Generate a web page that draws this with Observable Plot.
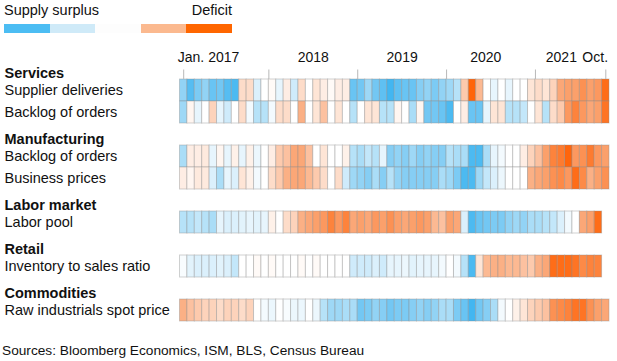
<!DOCTYPE html>
<html>
<head>
<meta charset="utf-8">
<script src="https://cdn.jsdelivr.net/npm/d3@7"></script>
<script src="https://cdn.jsdelivr.net/npm/@observablehq/plot@0.6"></script>
<style>
  html, body { margin: 0; padding: 0; background: #fff; }
  body { width: 617px; height: 361px; overflow: hidden; font-family: "Liberation Sans", Arial, sans-serif; color: #111; }
  #legend { position: relative; width: 617px; height: 38px; }
  #legend .labels { position: absolute; left: 4px; top: 2px; width: 228px; display: flex; justify-content: space-between; font-size: 14.5px; line-height: 17px; }
  #legend .bar { position: absolute; left: 4px; top: 24px; width: 228px; height: 9px; display: flex; }
  #legend .bar div { flex: 1; }
  #chart svg { display: block; }
  #caption { font-size: 13.7px; line-height: 16px; margin: 5px 0 0 2px; }
</style>
</head>
<body>
<div id="legend"></div>
<div id="chart"></div>
<div id="caption"></div>
<script>
// ---- Data ----
const legendLeft = "Supply surplus";
const legendRight = "Deficit";
const legendColors = ["#4cbdf3", "#cfeaf8", "#fdfdfd", "#fbb98f", "#ff6600"];

const groups = ["Services", "Manufacturing", "Labor market", "Retail", "Commodities"];
const seriesGroup = ["Services", "Services", "Manufacturing", "Manufacturing", "Labor market", "Retail", "Commodities"];
const seriesLabel = ["Supplier deliveries", "Backlog of orders", "Backlog of orders", "Business prices", "Labor pool", "Inventory to sales ratio", "Raw industrials spot price"];

// Monthly readings from Jan. 2017 (index 0) to Oct. 2021 (index 57); negative = supply surplus, positive = deficit
const servicesSupplierDeliveries = [
  -0.45,-0.75,-0.55,-0.45,-0.65,-0.6,-0.75,-0.8,0.2,0.2,-0.15,0,
  0.03,-0.1,0.1,-0.2,0.2,0,0.15,0.1,0.03,0.1,0.1,-0.65,
  -0.6,-0.4,-0.6,-0.7,-0.85,-0.7,-0.65,-0.65,-0.5,-0.45,-0.55,-0.45,
  -0.4,-0.3,0.3,0.95,0.4,0,-0.1,0,-0.1,0,0,0.15,
  0.2,0.15,0.25,0.5,0.55,0.55,0.65,0.55,0.6,0.9];
const servicesBacklog = [
  -0.4,0.05,-0.1,0,0.25,-0.1,-0.2,0,0.2,-0.05,-0.3,-0.3,
  -0.05,0.2,0.2,0,0.45,0,0.15,0.35,0,0.15,0,-0.3,
  0,0.15,0.15,-0.3,-0.3,0.05,0,-0.35,0.05,-0.6,-0.6,-0.65,
  -0.8,0,0.1,-0.65,-0.65,-0.1,0.15,0.15,-0.3,-0.3,-0.25,0,
  0.15,-0.3,0.2,0.3,0.6,0.75,0.6,0.5,0.55,0.85];
const manufacturingBacklog = [
  -0.35,0.1,0.1,0.12,-0.1,0.05,-0.1,0.08,-0.1,0.08,-0.08,0,
  0.1,0.3,0.35,0.5,0.5,0.35,0,0.15,0,0,0.08,-0.3,
  -0.35,-0.25,-0.3,-0.1,-0.5,-0.45,-0.5,-0.4,-0.5,-0.45,-0.5,-0.5,
  -0.3,-0.35,-0.35,-0.8,-0.8,-0.35,-0.1,-0.05,0,0,0.1,0.25,
  0.35,0.55,0.75,0.8,0.95,0.6,0.65,0.8,0.6,0.55];
const manufacturingPrices = [
  0.1,0.05,0.12,0.12,-0.15,-0.35,-0.1,-0.15,0.15,0.08,-0.05,0,
  0.2,0.3,0.45,0.5,0.5,0.4,0.3,0.2,0,0.2,-0.2,-0.4,
  -0.45,-0.5,-0.35,-0.5,-0.3,-0.45,-0.5,-0.5,-0.5,-0.5,-0.5,-0.35,
  -0.4,-0.55,-0.8,-0.8,-0.4,-0.25,-0.15,-0.08,0,0,0,0.45,
  0.5,0.55,0.65,0.7,0.6,0.9,0.7,0.45,0.55,0.65];
const laborPool = [
  -0.3,-0.3,-0.25,-0.3,-0.35,-0.1,-0.15,-0.15,-0.12,-0.1,-0.12,-0.1,
  0.08,0,0.2,0.25,0.45,0.5,0.55,0.6,0.75,0.6,0.75,0.5,
  0.55,0.5,0.6,0.55,0.65,0.55,0.5,0.55,0.6,0.55,0.4,0.35,
  0.55,0.5,-0.15,-0.8,-0.65,-0.6,-0.55,-0.55,-0.45,-0.4,-0.45,-0.35,
  -0.35,-0.3,-0.25,-0.15,-0.05,0,0.5,0.55,0.9];
const retailInventory = [
  -0.03,-0.12,-0.15,-0.15,-0.15,-0.12,-0.15,-0.25,0,0,0.03,0,
  0.03,0,0,0,0.03,0,0.03,0,0,0,0,-0.2,
  -0.2,-0.2,-0.15,-0.2,-0.1,-0.1,-0.08,-0.12,-0.1,-0.1,-0.1,-0.05,
  0,-0.05,-0.3,-0.8,0.15,0.4,0.45,0.45,0.4,0.4,0.35,0.3,
  0.45,0.5,0.9,0.9,0.9,0.85,0.7,0.75,0.75];
const commodities = [
  0.45,0.35,0.3,0.25,0.25,0.2,0.25,0.25,0.2,0.25,0,-0.05,
  -0.08,0,-0.03,-0.08,-0.08,0,-0.08,-0.3,-0.4,-0.4,-0.35,-0.35,
  -0.6,-0.55,-0.45,-0.5,-0.6,-0.55,-0.55,-0.5,-0.45,-0.5,-0.45,-0.35,
  -0.35,-0.55,-0.65,-0.85,-0.6,-0.5,-0.35,-0.05,0,0.08,0.15,0.25,
  0.3,0.35,0.65,0.7,0.75,0.85,0.85,0.65,0.55,0.5];
const seriesValues = [servicesSupplierDeliveries, servicesBacklog, manufacturingBacklog, manufacturingPrices, laborPool, retailInventory, commodities];

const monthCount = 58;
const tickPos = [0.5, 12, 24, 36, 48, 57.5];
const tickLabels = ["Jan. 2017", "2018", "2019", "2020", "2021", "Oct."];
const tickLabelPos = [-0.3, 18, 30, 41.3, 51.5, 57.8];
const tickLabelAnchor = ["start", "middle", "middle", "middle", "middle", "end"];
const captionText = "Sources: Bloomberg Economics, ISM, BLS, Census Bureau";

// ---- Build ----
const font = "'Liberation Sans', Arial, sans-serif";
const legend = document.getElementById("legend");
legend.innerHTML = `<div class="labels"><span>${legendLeft}</span><span>${legendRight}</span></div>` +
  `<div class="bar">${legendColors.map(c => `<div style="background:${c}"></div>`).join("")}</div>`;
document.getElementById("caption").textContent = captionText;

const rowKey = (g, l) => g + "|" + l;
const headerKey = g => "H|" + g;
const rowDomain = [];
for (const g of groups) {
  rowDomain.push(headerKey(g));
  seriesLabel.forEach((l, i) => { if (seriesGroup[i] === g) rowDomain.push(rowKey(g, l)); });
}
const series = seriesLabel.map((l, i) => ({key: rowKey(seriesGroup[i], l), label: l}));
const cells = [];
seriesValues.forEach((vals, s) => vals.forEach((v, i) => cells.push({key: series[s].key, i, i2: i + 1, v})));
const ticks = tickLabels.map((t, i) => ({t, x: tickLabelPos[i], anchor: tickLabelAnchor[i]}));

const chart = Plot.plot({
  width: 617,
  height: 300,
  marginTop: 16,
  marginBottom: 15,
  marginLeft: 179.5,
  marginRight: 8,
  style: {fontFamily: font, color: "#111", background: "#fff", overflow: "visible"},
  x: {type: "linear", domain: [0, monthCount], axis: null},
  y: {type: "band", domain: rowDomain, padding: 0, axis: null},
  color: {type: "linear", domain: [-1, -0.5, 0, 0.5, 1], range: ["#25acef", "#86cef4", "#ffffff", "#fba777", "#ff5e00"], clamp: true},
  marks: [
    Plot.barX(cells, {x1: "i", x2: "i2", y: "key", fill: "v", stroke: "#8c8c8c", strokeOpacity: 0.4, strokeWidth: 1, inset: 0}),
    Plot.ruleX(tickPos, {x: d => d, y1: () => rowDomain[0], y2: () => rowDomain[0], insetTop: 12.5, stroke: "#b8b8b8", strokeWidth: 1}),
    ...["start", "middle", "end"].map(a => Plot.text(ticks.filter(d => d.anchor === a), {x: "x", text: "t", frameAnchor: "top", dy: -2, textAnchor: a, fontSize: 14, fill: "#111"})),
    Plot.text(groups, {y: d => headerKey(d), text: d => d, frameAnchor: "left", dx: -175.5, dy: 5, textAnchor: "start", fontWeight: "bold", fontSize: 14.5, fill: "#111"}),
    Plot.text(series, {y: "key", text: "label", frameAnchor: "left", dx: -175.5, textAnchor: "start", fontSize: 14.5, fill: "#111"})
  ]
});
document.getElementById("chart").appendChild(chart);
</script>
</body>
</html>
